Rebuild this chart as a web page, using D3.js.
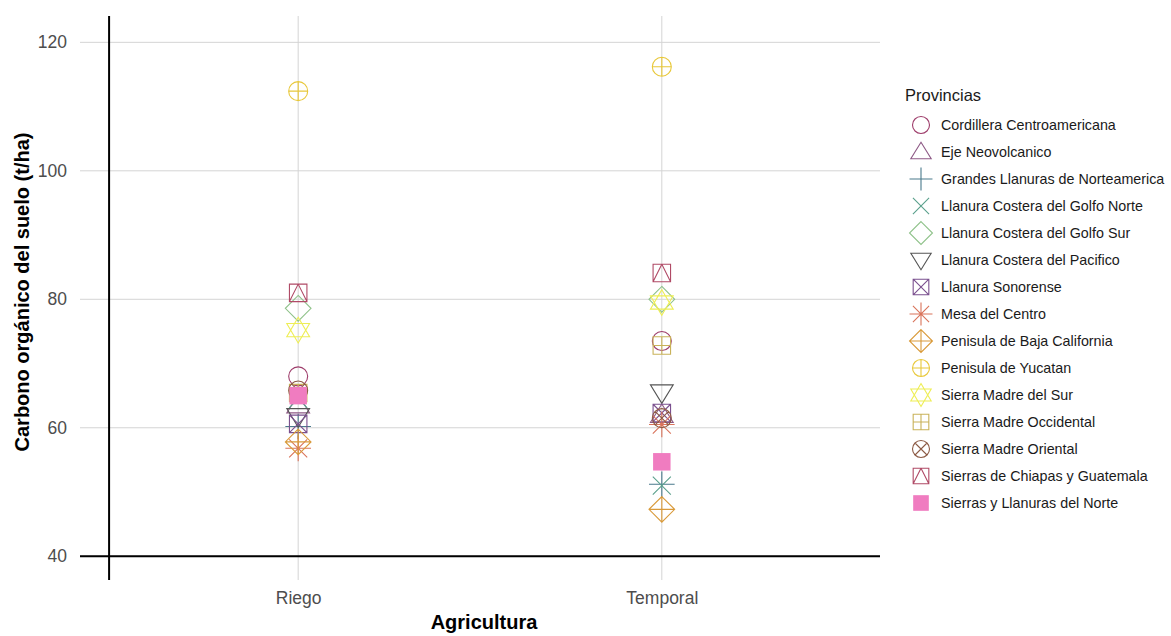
<!DOCTYPE html>
<meta charset="utf-8">
<script src="https://d3js.org/d3.v7.min.js"></script>
<div id="my_dataviz"></div>
<style>
    body { margin: 0; background-color: #ffffff; font-family: "Liberation Sans", Arial, sans-serif; }
</style>
<script>

    // categories and values
    var categorias = ["Riego", "Temporal"];
    var yTicks = [40, 60, 80, 100, 120];

    var provincias = [
        "Cordillera Centroamericana", "Eje Neovolcanico", "Grandes Llanuras de Norteamerica",
        "Llanura Costera del Golfo Norte", "Llanura Costera del Golfo Sur", "Llanura Costera del Pacifico",
        "Llanura Sonorense", "Mesa del Centro", "Penisula de Baja California", "Penisula de Yucatan",
        "Sierra Madre del Sur", "Sierra Madre Occidental", "Sierra Madre Oriental",
        "Sierras de Chiapas y Guatemala", "Sierras y Llanuras del Norte"
    ];
    var formas = [1, 2, 3, 4, 5, 6, 7, 8, 9, 10, 11, 12, 13, 14, 15];
    var colores = [
        "#9e3d6b", "#8e5a86", "#4a7a8c", "#5aa08c", "#8fc28a", "#555555", "#7a4f8e", "#d9735a",
        "#d99a3a", "#e8c83a", "#eeee55", "#c9b25a", "#8c5a44", "#b04a66", "#f07cc0"
    ];
    var riego = [68.0, 63.5, 60.2, 64.5, 78.6, 61.8, 60.6, 56.8, 57.8, 112.4, 75.2, 65.4, 65.8, 81.0, 65.0];
    var temporal = [73.5, 62.0, 51.2, 51.0, 80.0, 65.5, 62.3, 60.5, 47.3, 116.2, 79.5, 72.8, 61.5, 84.1, 54.7];

    var W = 1171, H = 636;
    var panel = { left: 80, right: 880, top: 16, bottom: 580 };

    var svg = d3.select("#my_dataviz")
        .append("svg")
        .attr("width", W)
        .attr("height", H);

    var x = d3.scalePoint()
        .domain(categorias)
        .range([panel.left, panel.right])
        .padding(0.6);

    var y = d3.scaleLinear()
        .domain([36.3, 124.1])
        .range([panel.bottom, panel.top]);

    // grid lines
    svg.append("g").selectAll("line")
        .data(yTicks)
        .enter().append("line")
        .attr("x1", panel.left).attr("x2", panel.right)
        .attr("y1", function (d) { return y(d); })
        .attr("y2", function (d) { return y(d); })
        .attr("stroke", "#d4d4d4").attr("stroke-width", 1);

    svg.append("g").selectAll("line")
        .data(categorias)
        .enter().append("line")
        .attr("x1", function (d) { return x(d); })
        .attr("x2", function (d) { return x(d); })
        .attr("y1", panel.top).attr("y2", panel.bottom)
        .attr("stroke", "#d4d4d4").attr("stroke-width", 1);

    // black reference lines
    svg.append("line")
        .attr("x1", panel.left).attr("x2", panel.right)
        .attr("y1", y(40)).attr("y2", y(40))
        .attr("stroke", "#000").attr("stroke-width", 2);
    svg.append("line")
        .attr("x1", x("Riego") - x.step() * 0.52).attr("x2", x("Riego") - x.step() * 0.52)
        .attr("y1", panel.top).attr("y2", panel.bottom)
        .attr("stroke", "#000").attr("stroke-width", 2);

    // axes (text only, ggplot style)
    var yAxis = svg.append("g")
        .attr("transform", "translate(" + (panel.left - 5) + ",0)")
        .call(d3.axisLeft(y).tickValues(yTicks).tickSize(0).tickPadding(8));
    yAxis.select(".domain").remove();
    yAxis.selectAll("text")
        .style("font-family", "Liberation Sans, Arial, sans-serif")
        .style("font-size", "17.5px").attr("fill", "#4d4d4d");

    var xAxis = svg.append("g")
        .attr("transform", "translate(0," + panel.bottom + ")")
        .call(d3.axisBottom(x).tickSize(0).tickPadding(12));
    xAxis.select(".domain").remove();
    xAxis.selectAll("text")
        .style("font-family", "Liberation Sans, Arial, sans-serif")
        .style("font-size", "17.5px").attr("fill", "#4d4d4d");

    // axis titles
    svg.append("text")
        .attr("x", (panel.left + panel.right) / 2 + 4)
        .attr("y", 629)
        .attr("text-anchor", "middle")
        .style("font-size", "20px").style("font-weight", "bold")
        .text("Agricultura");

    svg.append("text")
        .attr("transform", "translate(29,292) rotate(-90)")
        .attr("text-anchor", "middle")
        .style("font-size", "20px").style("font-weight", "bold")
        .text("Carbono orgánico del suelo (t/ha)");

    // R-like point shapes
    function forma(n, s) {
        var circ = function (r) { return "M" + (-r) + ",0a" + r + "," + r + " 0 1,0 " + (2 * r) + ",0a" + r + "," + r + " 0 1,0 " + (-2 * r) + ",0"; };
        var sq = function (h) { return "M" + (-h) + "," + (-h) + "H" + h + "V" + h + "H" + (-h) + "Z"; };
        var plus = function (a) { return "M" + (-a) + ",0H" + a + "M0," + (-a) + "V" + a; };
        var cruz = function (a) { return "M" + (-a) + "," + (-a) + "L" + a + "," + a + "M" + (-a) + "," + a + "L" + a + "," + (-a); };
        var dia = function (a) { return "M0," + (-a) + "L" + a + ",0L0," + a + "L" + (-a) + ",0Z"; };
        var triUp = function (w, t, b) { return "M0," + (-t) + "L" + w + "," + b + "L" + (-w) + "," + b + "Z"; };
        var triDn = function (w, t, b) { return "M0," + t + "L" + w + "," + (-b) + "L" + (-w) + "," + (-b) + "Z"; };
        var r = s, h = s * 0.92;
        switch (n) {
            case 1: return circ(r);
            case 2: return triUp(s * 1.2, s * 1.15, s * 0.8);
            case 3: return plus(s * 1.35);
            case 4: return cruz(s * 0.95);
            case 5: return dia(s * 1.35);
            case 6: return triDn(s * 1.2, s * 1.15, s * 0.8);
            case 7: return sq(h) + cruz(h);
            case 8: return plus(s * 1.35) + cruz(s * 0.95);
            case 9: return dia(s * 1.35) + plus(s * 1.35);
            case 10: return circ(r) + plus(r);
            case 11: return triUp(s * 1.2, s * 1.35, s * 0.7) + triDn(s * 1.2, s * 1.35, s * 0.7);
            case 12: return sq(h) + plus(h);
            case 13: return circ(r) + cruz(r * 0.707);
            case 14: return sq(h) + "M0," + (-h) + "L" + h + "," + h + "M0," + (-h) + "L" + (-h) + "," + h;
            case 15: return sq(h);
        }
    }

    var puntos = [];
    categorias.forEach(function (c) {
        var vals = c === "Riego" ? riego : temporal;
        provincias.forEach(function (p, i) {
            puntos.push({ cat: c, valor: vals[i], forma: formas[i], color: colores[i] });
        });
    });

    svg.append("g").selectAll("path")
        .data(puntos)
        .enter().append("path")
        .attr("transform", function (d) { return "translate(" + x(d.cat) + "," + y(d.valor) + ")"; })
        .attr("d", function (d) { return forma(d.forma, 9.5); })
        .attr("fill", function (d) { return d.forma === 15 ? d.color : "none"; })
        .attr("stroke", function (d) { return d.forma === 15 ? "none" : d.color; })
        .attr("stroke-width", 1.1);

    // legend
    var legend = svg.append("g").attr("transform", "translate(905,0)");
    legend.append("text")
        .attr("x", 0).attr("y", 101)
        .style("font-size", "16.5px").attr("fill", "#1a1a1a")
        .text("Provincias");

    var item = legend.selectAll(".item")
        .data(provincias)
        .enter().append("g")
        .attr("class", "item")
        .attr("transform", function (d, i) { return "translate(16," + (125 + i * 27) + ")"; });

    item.append("path")
        .attr("d", function (d, i) { return forma(formas[i], 8.5); })
        .attr("fill", function (d, i) { return formas[i] === 15 ? colores[i] : "none"; })
        .attr("stroke", function (d, i) { return formas[i] === 15 ? "none" : colores[i]; })
        .attr("stroke-width", 1.1);

    item.append("text")
        .attr("x", 20).attr("y", 5)
        .style("font-size", "14.3px").attr("fill", "#1a1a1a")
        .text(function (d) { return d; });

</script>
